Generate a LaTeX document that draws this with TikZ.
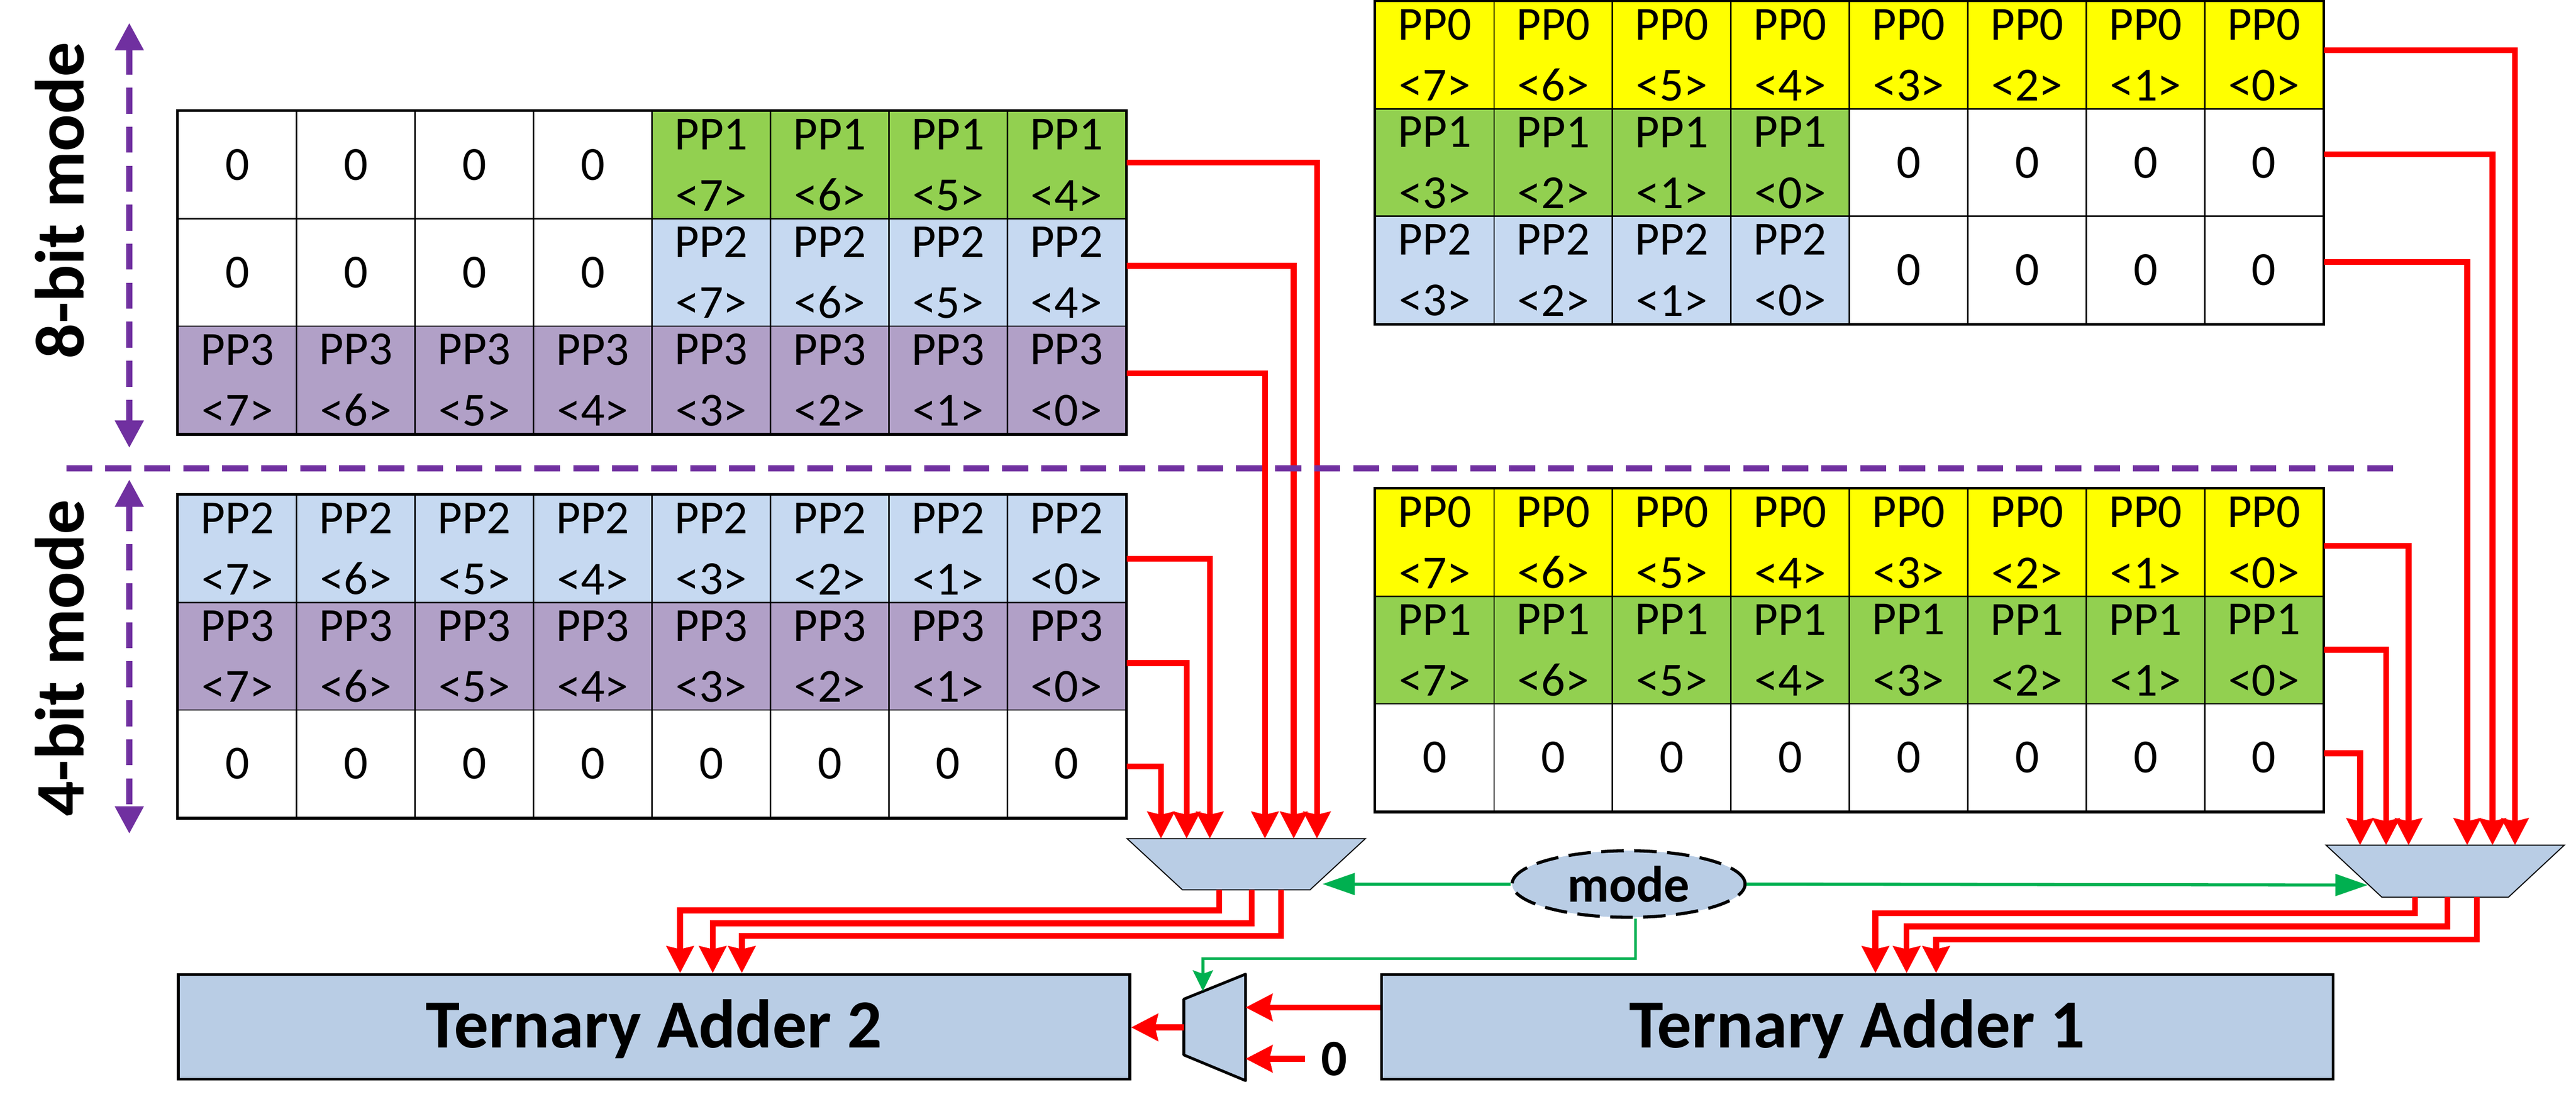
\documentclass[tikz,border=0pt]{standalone}
\usepackage{fontspec}
\setmainfont{Carlito}
\usetikzlibrary{arrows.meta,shapes.geometric}
\definecolor{ppyellow}{HTML}{FFFF00}
\definecolor{ppgreen}{HTML}{92D050}
\definecolor{ppblue}{HTML}{C6D9F1}
\definecolor{pppurple}{HTML}{B1A0C7}
\definecolor{boxblue}{HTML}{B9CDE5}
\definecolor{selgreen}{HTML}{00B050}
\definecolor{modepurple}{HTML}{7030A0}
\newcommand{\cellfont}{\fontsize{39}{50}\selectfont}
\newcommand{\bigfont}{\fontsize{56.5}{68}\selectfont\bfseries}
\newcommand{\midfont}{\fontsize{42}{50}\selectfont\bfseries}
\tikzset{
  ppcell/.style={draw, line width=0.04cm, fill=white, minimum width=3.417cm, minimum height=3.1cm, inner sep=0pt, align=center, font=\cellfont},
  tableframe/.style={draw, line width=0.08cm},
  muxbox/.style={inner sep=0pt, outer sep=0pt},
  muxfill/.style={draw, line width=0.03cm, fill=boxblue},
  adder/.style={draw, line width=0.08cm, fill=boxblue, inner sep=0pt, font=\bigfont, text height=1.2cm, text depth=0pt},
  bus/.style={draw=red, line width=0.17cm, -{Stealth[length=0.77cm,width=0.77cm,inset=0.08cm]}},
  sel/.style={draw=selgreen, line width=0.09cm, -{Triangle[length=0.93cm,width=0.62cm]}},
  selthin/.style={draw=selgreen, line width=0.08cm, -{Stealth[length=0.6cm,width=0.58cm,inset=0.1cm]}},
  modeline/.style={draw=modepurple, line width=0.18cm, dash pattern=on 0.75cm off 0.375cm},
  modearrow/.style={modeline, {Triangle[length=0.79cm,width=0.79cm]}-{Triangle[length=0.79cm,width=0.79cm]}},
  modelabel/.style={font=\fontsize{57}{68}\selectfont\bfseries, rotate=90, anchor=base, inner sep=0pt}
}
% one row piece: name, left x, centre y, fill, label, columns, bit offset
\def\ppcells#1#2#3#4#5#6#7{\foreach \col in {#6} {\pgfmathtruncatemacro\bitno{#7-\col}\node[ppcell, fill=#4] (#1-\col) at ({#2+1.7085+3.417*\col}, #3) {#5\\<\bitno>};}}
\def\zerocells#1#2#3#4{\foreach \col in {#4} {\node[ppcell] (#1-\col) at ({#2+1.7085+3.417*\col}, #3) {0};}}

\begin{document}
\begin{tikzpicture}
	%%%%% START %%%%%
	\useasboundingbox (0,0) rectangle (74.31,32.19);
	
	% 8-bit mode
	\zerocells{L8-1}{5.14}{27.43}{0,...,3}
	\ppcells{L8-1}{5.14}{27.43}{ppgreen}{PP1}{4,...,7}{11}
	\zerocells{L8-2}{5.14}{24.33}{0,...,3}
	\ppcells{L8-2}{5.14}{24.33}{ppblue}{PP2}{4,...,7}{11}
	\ppcells{L8-3}{5.14}{21.23}{pppurple}{PP3}{0,...,7}{7}
	\draw[tableframe] (L8-1-0.north west) rectangle (L8-3-7.south east);
	
	\ppcells{R8-1}{39.68}{30.60}{ppyellow}{PP0}{0,...,7}{7}
	\ppcells{R8-2}{39.68}{27.50}{ppgreen}{PP1}{0,...,3}{3}
	\zerocells{R8-2}{39.68}{27.50}{4,...,7}
	\ppcells{R8-3}{39.68}{24.40}{ppblue}{PP2}{0,...,3}{3}
	\zerocells{R8-3}{39.68}{24.40}{4,...,7}
	\draw[tableframe] (R8-1-0.north west) rectangle (R8-3-7.south east);
	
	% 4-bit mode
	\ppcells{L4-1}{5.14}{16.36}{ppblue}{PP2}{0,...,7}{7}
	\ppcells{L4-2}{5.14}{13.26}{pppurple}{PP3}{0,...,7}{7}
	\zerocells{L4-3}{5.14}{10.16}{0,...,7}
	\draw[tableframe] (L4-1-0.north west) rectangle (L4-3-7.south east);
	
	\ppcells{R4-1}{39.68}{16.54}{ppyellow}{PP0}{0,...,7}{7}
	\ppcells{R4-2}{39.68}{13.44}{ppgreen}{PP1}{0,...,7}{7}
	\zerocells{R4-3}{39.68}{10.34}{0,...,7}
	\draw[tableframe] (R4-1-0.north west) rectangle (R4-3-7.south east);
	
	% muxes
	\node[muxbox, minimum width=6.875cm, minimum height=1.48cm] (muxL) at (35.95,7.26) {};
	\draw[muxfill] (muxL.north west) -- (muxL.north east) -- ([xshift=-1.6cm]muxL.south east) -- ([xshift=1.6cm]muxL.south west) -- cycle;
	\node[muxbox, minimum width=6.87cm, minimum height=1.5cm] (muxR) at (70.535,7.06) {};
	\draw[muxfill] (muxR.north west) -- (muxR.north east) -- ([xshift=-1.61cm]muxR.south east) -- ([xshift=1.61cm]muxR.south west) -- cycle;
	\node[muxbox, minimum width=1.78cm, minimum height=3.07cm] (muxS) at (35.04,2.555) {};
	\draw[muxfill, line width=0.08cm, line join=round] (muxS.north east) -- (muxS.south east) -- ([yshift=0.74cm]muxS.south west) -- ([yshift=-0.72cm]muxS.north west) -- cycle;
	
	\node[adder, minimum width=27.45cm, minimum height=3.02cm] (TA2) at (18.865,2.57) {Ternary Adder 2};
	\node[adder, minimum width=27.45cm, minimum height=3.02cm] (TA1) at (53.575,2.57) {Ternary Adder 1};
	
	\node[ellipse, draw, line width=0.09cm, dash pattern=on 0.65cm off 0.3cm, fill=boxblue, minimum width=6.72cm, minimum height=1.92cm, inner sep=0pt, font=\midfont] (mode) at (46.98,6.69) {mode};
	\node[font=\midfont, inner sep=0pt, inner xsep=0.46cm] (zeroin) at (38.49,1.65) {0};
	
	% partial products into the muxes
	\foreach \r/\sy/\dx in {1/0.07/2.04, 2/0.19/1.37, 3/0.19/0.54} \draw[bus] ([yshift=\sy cm]L8-\r-7.east) -| ([xshift=\dx cm]muxL.north);
	\foreach \r/\sy/\dx in {1/-0.29/-1.05, 2/-0.20/-1.72, 3/-0.08/-2.46} \draw[bus] ([yshift=\sy cm]L4-\r-7.east) -| ([xshift=\dx cm]muxL.north);
	\foreach \r/\sy/\dx in {1/0.14/2.015, 2/0.24/1.365, 3/0.23/0.635} \draw[bus] ([yshift=\sy cm]R8-\r-7.east) -| ([xshift=\dx cm]muxR.north);
	\foreach \r/\sy/\dx in {1/-0.10/-1.055, 2/0.01/-1.705, 3/0.12/-2.455} \draw[bus] ([yshift=\sy cm]R4-\r-7.east) -| ([xshift=\dx cm]muxR.north);
	
	% muxes into the adders
	\foreach \ox/\dy/\tx in {-0.78/0.59/0.755, 0.155/0.96/1.695, 1.00/1.33/2.535}
		\draw[bus] ([xshift=\ox cm]muxL.south) -- ++(0,-\dy) -| ([xshift=\tx cm]TA2.north);
	\foreach \ox/\dy/\tx in {-0.873/0.46/0.525, 0.068/0.84/1.425, 0.909/1.22/2.275}
		\draw[bus] ([xshift=\ox cm]muxR.south) -- ++(0,-\dy) -| ([xshift=\tx cm]TA1.north);
	
	\coordinate (muxSa) at ([yshift=0.575cm]muxS.east);
	\draw[bus] (muxSa -| TA1.west) -- (muxSa);
	\draw[bus] (zeroin.west) -- (zeroin.west -| muxS.east);
	\draw[bus] (muxS.west) -- (muxS.west -| TA2.east);
	
	% mode select
	\coordinate (selL) at (38.15,6.69);
	\coordinate (selR) at (68.30,6.66);
	\coordinate (selS) at (34.70,3.60);
	\draw[sel] (mode.west) -- (selL);
	\draw[sel] (mode.east) -- (selR);
	\draw[selthin] ([xshift=0.2cm]mode.south) -- ++(0,-1.15) -| (selS);
	
	% mode markers
	\draw[modeline] (1.91,18.68) -- (69.10,18.68);
	\draw[modearrow] (3.73,31.53) -- (3.73,19.27);
	\draw[modearrow] (3.73,18.36) -- (3.73,8.14);
	\node[modelabel] (lab8) at (2.41,26.41) {8-bit mode};
	\node[modelabel] (lab4) at (2.41,13.21) {4-bit mode};
	
	%%%%% END %%%%%
\end{tikzpicture}
\end{document}
